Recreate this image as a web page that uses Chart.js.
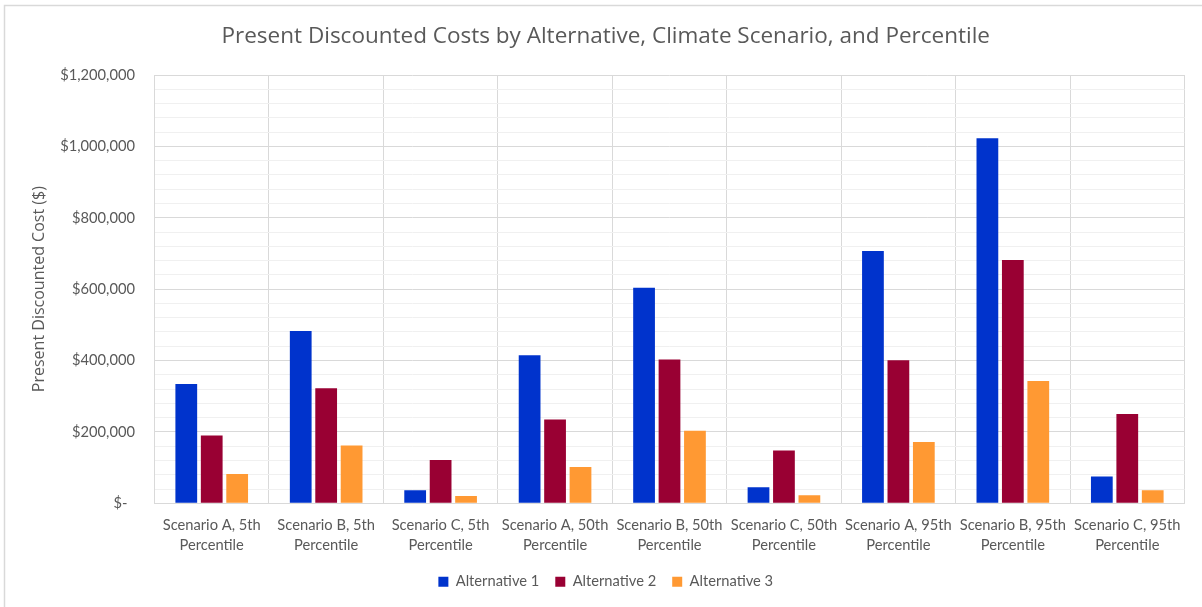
<!DOCTYPE html>
<html>
<head>
<meta charset="utf-8">
<title>Present Discounted Costs</title>
<script src="https://cdn.jsdelivr.net/npm/chart.js@4/dist/chart.umd.min.js"></script>
<style>
  html, body { margin: 0; padding: 0; background: #ffffff; }
  #wrap { width: 1202px; height: 607px; }
</style>
</head>
<body>
<div id="wrap"><canvas id="chart" width="1202" height="607"></canvas></div>
<script>
// Categories: climate scenario and percentile
const categories = [
  ['Scenario A, 5th', 'Percentile'],
  ['Scenario B, 5th', 'Percentile'],
  ['Scenario C, 5th', 'Percentile'],
  ['Scenario A, 50th', 'Percentile'],
  ['Scenario B, 50th', 'Percentile'],
  ['Scenario C, 50th', 'Percentile'],
  ['Scenario A, 95th', 'Percentile'],
  ['Scenario B, 95th', 'Percentile'],
  ['Scenario C, 95th', 'Percentile']
];

// Present discounted cost ($) per alternative
const alternative1 = [334000, 483000, 36500, 415000, 604000, 45000, 707000, 1023000, 75000];
const alternative2 = [190000, 322000, 121000, 235000, 403000, 148000, 401000, 682000, 250000];
const alternative3 = [82000, 162000, 20500, 102000, 203000, 22500, 172000, 343000, 36500];

const seriesNames = ['Alternative 1', 'Alternative 2', 'Alternative 3'];

// Value axis: labelled every $200,000, light minor lines every $40,000
const yMax = 1200000;
const yMajorStep = 200000;
const yMinorStep = 40000;

const TEXT = '#595959';
const GRID_MAJOR = '#d9d9d9';
const GRID_MINOR = '#f0f0f0';
const WIDE_FONT = '"Open Sans", Lato, sans-serif';

Chart.defaults.font.family = 'Lato, "Open Sans", sans-serif';
Chart.defaults.color = TEXT;

function money(v) {
  if (v === 0) return '$-  ';
  return '$' + v.toLocaleString('en-US');
}

// Thin frame along the top and left edge of the figure
const framePlugin = {
  id: 'frame',
  beforeDraw(chart) {
    const ctx = chart.ctx;
    ctx.save();
    ctx.fillStyle = '#ffffff';
    ctx.fillRect(0, 0, chart.width, chart.height);
    ctx.strokeStyle = '#d9d9d9';
    ctx.lineWidth = 1.5;
    ctx.beginPath();
    ctx.moveTo(4.5, chart.height);
    ctx.lineTo(4.5, 5.5);
    ctx.lineTo(chart.width, 5.5);
    ctx.stroke();
    ctx.restore();
  }
};

const barStyle = { categoryPercentage: 0.667, barPercentage: 0.855, borderWidth: 0 };

new Chart(document.getElementById('chart'), {
  type: 'bar',
  data: {
    labels: categories,
    datasets: [
      Object.assign({ label: seriesNames[0], data: alternative1, backgroundColor: '#0033cc' }, barStyle),
      Object.assign({ label: seriesNames[1], data: alternative2, backgroundColor: '#990033' }, barStyle),
      Object.assign({ label: seriesNames[2], data: alternative3, backgroundColor: '#ff9933' }, barStyle)
    ]
  },
  options: {
    responsive: false,
    animation: false,
    layout: { padding: { left: 27, right: 17.5, top: 0, bottom: 8 } },
    plugins: {
      tooltip: { enabled: false },
      title: {
        display: true,
        text: 'Present Discounted Costs by Alternative, Climate Scenario, and Percentile',
        color: TEXT,
        font: { family: WIDE_FONT, size: 22.5, weight: 'normal', lineHeight: 1.2 },
        padding: { top: 23.5, bottom: 24.5 }
      },
      legend: {
        position: 'bottom',
        labels: {
          color: TEXT,
          font: { size: 14.7 },
          boxWidth: 10,
          boxHeight: 10,
          padding: 16
        }
      }
    },
    scales: {
      x: {
        grid: { display: true, offset: true, color: GRID_MAJOR, lineWidth: 1, drawTicks: false },
        border: { display: true, color: GRID_MAJOR, width: 1 },
        ticks: {
          color: TEXT,
          font: { size: 14.7, lineHeight: 1.4 },
          padding: 11.4,
          maxRotation: 0,
          minRotation: 0,
          autoSkip: false
        },
        afterFit(scale) { scale.height = 55; }
      },
      y: {
        min: 0,
        max: yMax,
        grid: {
          color: (c) => (c.tick && c.tick.value % yMajorStep === 0) ? GRID_MAJOR : GRID_MINOR,
          lineWidth: 1,
          drawTicks: false
        },
        border: { display: true, color: GRID_MAJOR, width: 1 },
        ticks: {
          stepSize: yMinorStep,
          maxTicksLimit: 100,
          autoSkip: false,
          color: TEXT,
          font: { size: 14.7 },
          padding: 19.5,
          callback: (v) => (v % yMajorStep === 0) ? money(v) : ''
        },
        title: {
          display: true,
          text: 'Present Discounted Cost ($)',
          color: TEXT,
          font: { family: WIDE_FONT, size: 16 },
          padding: { top: 2.5, bottom: 0 }
        },
        afterFit(scale) { scale.width = 127.5; }
      }
    }
  },
  plugins: [framePlugin]
});
</script>
</body>
</html>
